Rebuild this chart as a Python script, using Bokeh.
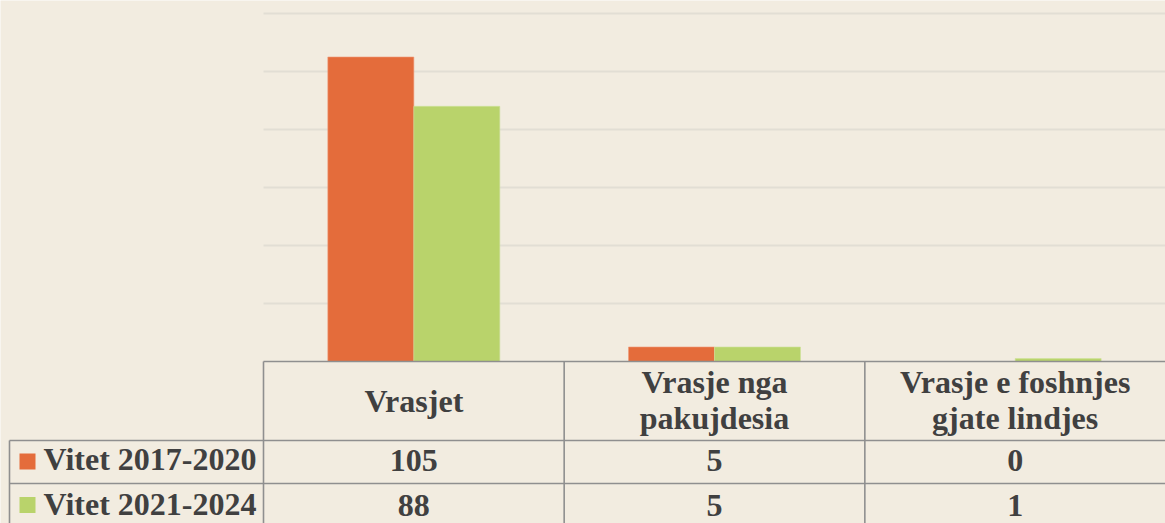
from bokeh.plotting import figure
from bokeh.models import Range1d, ColumnDataSource
from bokeh.core.properties import value
from bokeh.embed import file_html
from bokeh.resources import INLINE

# ---- data ----
categories = ["Vrasjet", "Vrasje nga pakujdesia", "Vrasje e foshnjes gjate lindjes"]
header_labels = ["Vrasjet", "Vrasje nga\npakujdesia", "Vrasje e foshnjes\ngjate lindjes"]
series_names = ["Vitet 2017-2020", "Vitet 2021-2024"]
values_2017_2020 = [105, 5, 0]
values_2021_2024 = [88, 5, 1]
grid_ticks = [20, 40, 60, 80, 100, 120]

# ---- style ----
BG = "#F2ECE0"
ORANGE = "#E46C3B"
GREEN = "#B9D36B"
TXT = "#404040"
TABLE_LINE = "#8F8F8F"
GRID = "#E2DED4"
FONT = value("Liberation Serif")
FSIZE = "32px"

# page-pixel helpers
PX_PER_CAT = 300.67
PX_PER_UNIT = 2.9
X0, Y0 = 263, 361


def dx(X):
    return (X - X0) / PX_PER_CAT


def dy(Y):
    return (Y0 - Y) / PX_PER_UNIT


W, H = 1165, 523
p = figure(width=W, height=H, output_backend="svg", toolbar_location=None,
           x_range=Range1d(dx(0), dx(W)), y_range=Range1d(dy(H), dy(0)),
           min_border=0, background_fill_color=BG, border_fill_color=BG,
           outline_line_color=None)
p.axis.visible = False
p.xgrid.visible = False
p.ygrid.visible = False

n = len(categories)
# gridlines
p.segment(x0=[0] * len(grid_ticks), x1=[n] * len(grid_ticks), y0=grid_ticks, y1=grid_ticks,
          line_color=GRID, line_width=2)

# bars
bw = 0.286
xs = [i + 0.5 for i in range(n)]
p.vbar(x=[x - bw / 2 for x in xs], top=values_2017_2020, bottom=0, width=bw,
       fill_color=ORANGE, line_color="#EE9A78", line_width=0.6)
p.vbar(x=[x + bw / 2 for x in xs], top=values_2021_2024, bottom=0, width=bw,
       fill_color=GREEN, line_color="#CFE39A", line_width=0.6)

# table lines
ry1, ry2, ybot = dy(440), dy(483), dy(530)
xl = dx(9)
p.segment(x0=[0, xl, xl], x1=[n, n, n], y0=[0, ry1, ry2], y1=[0, ry1, ry2],
          line_color=TABLE_LINE, line_width=1.6)
p.segment(x0=[0, 1, 2, xl], x1=[0, 1, 2, xl], y0=[0, 0, 0, ry1], y1=[ybot] * 4,
          line_color=TABLE_LINE, line_width=1.6)

# header texts (each line drawn separately, centred vertically)
hx, hy, ht = [], [], []
for i, lab in enumerate(header_labels):
    lines = lab.split("\n")
    if len(lines) == 1:
        mids = [400]
    else:
        mids = [381, 417]
    for ln, m in zip(lines, mids):
        hx.append(xs[i])
        hy.append(dy(m))
        ht.append(ln)
p.text(x=hx, y=hy, text=ht, text_font=FONT,
       text_font_style="bold", text_font_size=FSIZE, text_color=TXT,
       text_align="center", text_baseline="middle")

# value cells
row_mid = [dy(460), dy(505)]
cells = ColumnDataSource(dict(
    x=xs + xs,
    y=[row_mid[0]] * n + [row_mid[1]] * n,
    t=[str(v) for v in values_2017_2020] + [str(v) for v in values_2021_2024],
))
p.text(x="x", y="y", text="t", source=cells, text_font=FONT,
       text_font_style="bold", text_font_size=FSIZE, text_color=TXT,
       text_align="center", text_baseline="middle")

# row labels with legend keys
p.rect(x=[dx(27)] * 2, y=[dy(461), dy(504.5)], width=16 / PX_PER_CAT,
       height=16 / PX_PER_UNIT, fill_color=[ORANGE, GREEN], line_color=None)
p.text(x=[dx(43)] * 2, y=[dy(458.5), dy(503.5)], text=series_names, text_font=FONT,
       text_font_style="bold", text_font_size=FSIZE, text_color=TXT,
       text_align="left", text_baseline="middle")

open("out.html", "w").write(file_html(p, INLINE))
